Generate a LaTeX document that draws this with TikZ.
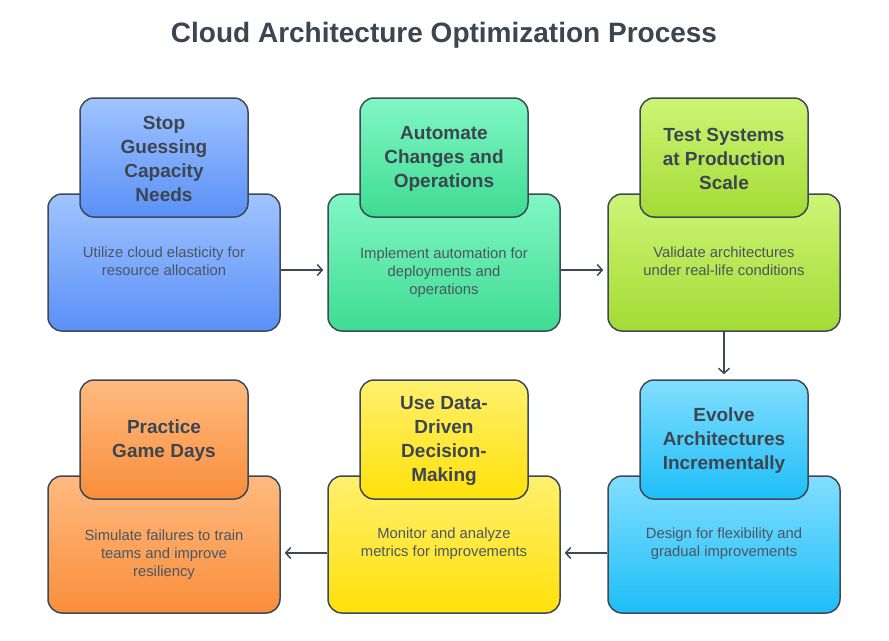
\documentclass[tikz,border=0pt]{standalone}
\usepackage{fontspec}
\setmainfont{Liberation Sans}
\usetikzlibrary{arrows.meta}
\definecolor{stroke}{HTML}{3D4A55}
\definecolor{ttl}{HTML}{3C4650}
\definecolor{bodyc}{HTML}{4B5661}
\definecolor{blueT}{HTML}{A0C4FF}\definecolor{blueB}{HTML}{5A90F7}
\definecolor{greenT}{HTML}{80F7C4}\definecolor{greenB}{HTML}{3FDB92}
\definecolor{limeT}{HTML}{CDF575}\definecolor{limeB}{HTML}{A3DB35}
\definecolor{cyanT}{HTML}{82DEFF}\definecolor{cyanB}{HTML}{1EBEF7}
\definecolor{yelT}{HTML}{FFF06E}\definecolor{yelB}{HTML}{FFE10A}
\definecolor{orT}{HTML}{FFBA80}\definecolor{orB}{HTML}{F98E3C}
\tikzset{
  bigbox/.style={draw=stroke, line width=1.5pt, rounded corners=14pt, minimum width=232pt, minimum height=137pt, inner sep=0pt},
  smallbox/.style={draw=stroke, line width=1.5pt, rounded corners=14pt, minimum width=168pt, minimum height=119pt, inner sep=0pt},
  headtext/.style={align=center, text=ttl, font=\fontsize{19}{24}\selectfont\bfseries, inner sep=0pt},
  bodytext/.style={align=center, text=bodyc, font=\fontsize{14.8}{18}\selectfont, inner sep=0pt},
  flow/.style={draw=stroke, line width=1.5pt, -{Straight Barb[length=5pt,width=11pt,line width=1.5pt]}},
  shB/.style={top color=#1T, bottom color=#1B}
}
\begin{document}
\begin{tikzpicture}[x=1pt,y=-1pt]
\useasboundingbox (0,0) rectangle (889,640);
\fill[white] (0,0) rectangle (889,640);
\node[text=ttl, font=\fontsize{28}{32}\selectfont\bfseries] (title) at (444,35) {Cloud Architecture Optimization Process};
% row 1
\node[bigbox, shB=blue] (b1) at (164,262.5) {};
\node[smallbox, shB=blue] (s1) at (164,157.5) {};
\node[headtext] (h1) at (164,159) {Stop\\Guessing\\Capacity\\Needs};
\node[bodytext] (t1) at (164,261) {Utilize cloud elasticity for\\resource allocation};
\node[bigbox, shB=green] (b2) at (444,262.5) {};
\node[smallbox, shB=green] (s2) at (444,157.5) {};
\node[headtext] (h2) at (444,159) {Automate\\Changes and\\Operations};
\node[bodytext] (t2) at (444,273) {Implement automation for\\deployments and\\operations};
\node[bigbox, shB=lime] (b3) at (724,262.5) {};
\node[smallbox, shB=lime] (s3) at (724,157.5) {};
\node[headtext] (h3) at (724,159) {Test Systems\\at Production\\Scale};
\node[bodytext] (t3) at (724,261) {Validate architectures\\under real-life conditions};
% row 2
\node[bigbox, shB=cyan] (b4) at (724,544.5) {};
\node[smallbox, shB=cyan] (s4) at (724,439.5) {};
\node[headtext] (h4) at (724,441) {Evolve\\Architectures\\Incrementally};
\node[bodytext] (t4) at (724,544) {Design for flexibility and\\gradual improvements};
\node[bigbox, shB=yel] (b5) at (444,544.5) {};
\node[smallbox, shB=yel] (s5) at (444,439.5) {};
\node[headtext] (h5) at (444,441) {Use Data-\\Driven\\Decision-\\Making};
\node[bodytext] (t5) at (444,544) {Monitor and analyze\\metrics for improvements};
\node[bigbox, shB=or] (b6) at (164,544.5) {};
\node[smallbox, shB=or] (s6) at (164,439.5) {};
\node[headtext] (h6) at (164,441) {Practice\\Game Days};
\node[bodytext] (t6) at (164,555) {Simulate failures to train\\teams and improve\\resiliency};
% connectors
\draw[flow, shorten >=4pt] (b1.east |- 0,270) -- (b2.west |- 0,270);
\draw[flow, shorten >=4pt] (b2.east |- 0,270) -- (b3.west |- 0,270);
\draw[flow, shorten >=5pt] (b3.south) -- (s4.north);
\draw[flow, shorten >=4pt] (b4.west |- 0,553) -- (b5.east |- 0,553);
\draw[flow, shorten >=4pt] (b5.west |- 0,553) -- (b6.east |- 0,553);
\end{tikzpicture}
\end{document}
